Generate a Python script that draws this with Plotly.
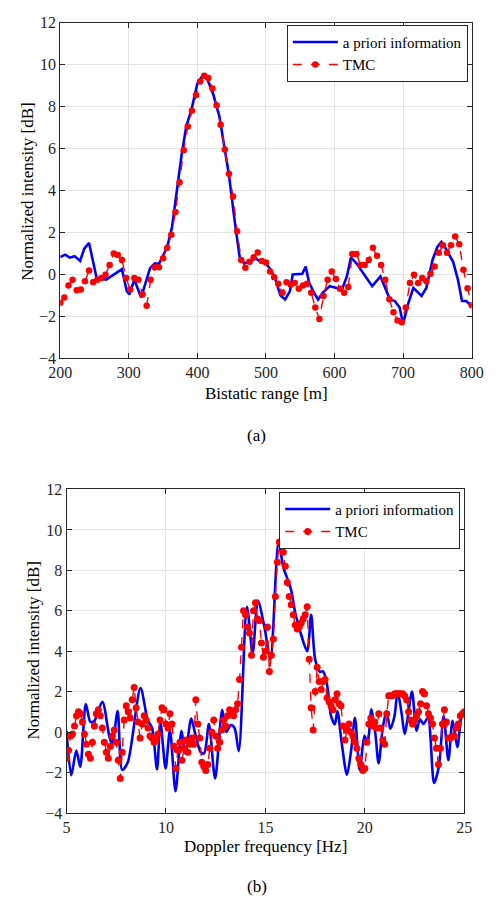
import plotly.graph_objects as go

# ---------------- (a) bistatic range profile ----------------
range_tmc = [200 + 6 * i for i in range(101)]
tmc_a = [
    -1.35, -1.1, -0.53, -0.25, -0.75, -0.72, -0.33, 0.19, -0.37, -0.25,
    -0.17, -0.02, 0.45, 1.0, 0.92, 0.69, -0.17, -0.72, -0.17, -0.25,
    -0.95, -1.5, -0.25, 0.34, 0.34, 0.77, 1.27, 1.89, 2.98, 4.39,
    5.92, 7.05, 7.8, 8.55, 9.2, 9.47, 9.36, 8.86, 8.06, 7.14,
    5.95, 4.8, 3.72, 2.06, 0.69, 0.32, 0.6, 0.82, 1.05, 0.64,
    0.57, 0.14, -0.13, -0.44, -0.88, -0.38, -0.48, -0.41, -0.69, -0.53,
    -0.44, -0.88, -1.58, -2.13, -1.03, -0.25, 0.14, -0.22, -0.69, -0.88,
    -0.6, 0.97, 0.97, 0.45, 0.45, 0.69, 1.27, 0.89, 0.45, -0.25,
    -1.19, -1.81, -2.2, -2.28, -1.58, -0.41, -0.02, -0.41, -0.17, -0.33,
    0.03, 0.38, 1.03, 1.39, 1.03, 1.39, 1.81, 1.44, 0.22, -0.66,
    -1.47,
]

range_prior = [
    200, 207, 214, 221, 229, 235, 242, 253, 267, 290, 297, 301, 308, 318,
    331, 338, 344, 356, 363, 370, 377, 384, 391, 400, 407, 414, 423, 432,
    440, 446, 455, 462, 469, 477, 485, 492, 498, 507, 514, 521, 528, 535,
    539, 549, 553, 558, 563, 569, 576, 583, 593, 602, 611, 618, 624, 632,
    646, 655, 667, 674, 681, 688, 695, 700, 708, 715, 727, 734, 743, 750,
    756, 761, 773, 780, 786, 792, 800,
]
prior_a = [
    0.82, 0.94, 0.8, 0.87, 0.64, 1.23, 1.5, -0.17, -0.25, 0.25, -0.8, -0.95,
    -0.25, -1.1, 0.3, 0.53, 0.5, 1.3, 2.25, 4.1, 5.7, 7.1, 7.8, 9.1, 9.45,
    9.35, 8.6, 7.55, 6.0, 4.75, 2.4, 0.76, 0.53, 0.6, 0.76, 0.6, 0.6, 0.22,
    -0.25, -1.0, -1.2, -0.8, 0.0, 0.0, 0.03, 0.37, -0.4, -0.8, -1.2, -0.87,
    -0.56, -0.64, -0.72, -0.1, 0.8, 0.53, -0.1, -0.56, -0.1, -0.64, -1.2,
    -1.27, -1.58, -2.36, -1.34, -0.64, -1.03, -0.64, 0.69, 1.31, 1.55, 1.31,
    0.6, -0.25, -1.27, -1.27, -1.5,
]

# ---------------- (b) Doppler spectrum ----------------
freq_tmc = [round(5.0 + 0.1 * i, 1) for i in range(201)]
tmc_b = [
    -1.3, -0.9, -0.2, -0.1, 0.3, 0.8, 1.0, 0.9, 0.5, -0.1,
    -0.6, -1.1, -1.3, -0.5, 0.3, 0.9, 1.1, 0.8, 0.2, -0.5,
    -1.0, -1.3, -0.7, -0.2, 0.1, -0.5, -1.4, -2.3, -1.0, 0.6,
    1.3, 1.0, 0.7, 1.6, 2.2, 1.2, 0.5, -0.3, 0.4, 0.8,
    0.6, 0.2, -0.2, -0.3, -0.5, -0.4, -0.1, 0.6, 1.2, 1.1,
    0.4, 0.2, 0.9, 0.4, -0.7, -1.8, -0.9, -0.5, -1.4, -0.8,
    -0.4, -1.0, -0.6, -0.3, -0.6, 1.6, 0.4, -0.3, -1.5, -1.7,
    -1.9, -1.6, -0.8, 0.0, 0.6, -0.2, -0.8, -0.5, 0.1, 0.6,
    0.3, 0.8, 1.1, 1.0, 0.8, 1.1, 1.4, 2.6, 4.2, 6.0,
    5.8, 5.2, 4.9, 3.8, 6.0, 6.4, 5.6, 5.5, 4.4, 3.7,
    4.0, 5.2, 3.0, 3.8, 4.6, 6.7, 8.4, 9.4, 9.3, 8.9,
    8.2, 7.4, 6.7, 6.3, 5.8, 5.3, 5.1, 5.2, 5.4, 5.6,
    5.8, 6.2, 3.6, 1.2, 0.1, 2.0, 3.2, 2.5, 2.1, 2.5,
    2.6, 1.7, 1.5, 1.3, 1.1, 1.6, 1.9, 1.4, 1.3, 0.3,
    -0.4, 0.1, 0.4, 0.0, -0.2, -0.5, -0.8, -1.3, -1.6, -1.9,
    -1.8, -0.5, 0.4, 0.7, 0.3, 0.5, 0.2, 0.9, 0.2, -0.4,
    -0.6, 0.9, 1.8, 1.8, 1.8, 1.9, 1.9, 1.9, 1.9, 1.9,
    1.8, 1.6, 1.0, 0.6, 0.4, 0.6, 0.8, 1.0, 1.4, 2.0,
    1.9, 1.3, 0.9, 0.7, 0.4, -0.3, -0.8, -1.6, -0.8, 0.4,
    1.1, 0.5, -0.3, -0.3, -0.2, -0.2, 0.2, 0.4, 0.8, 0.9,
    1.0,
]

freq_prior = [
    5.0, 5.24, 5.49, 5.69, 5.97, 6.2, 6.4, 6.8, 7.15, 7.3, 7.57, 7.8, 8.08,
    8.72, 9.08, 9.3, 9.55, 9.72, 9.98, 10.2, 10.48, 10.78, 10.97, 11.27,
    11.45, 11.75, 11.92, 12.16, 12.47, 12.83, 13.03, 13.26, 13.45, 13.66,
    14.07, 14.36, 14.62, 14.95, 15.25, 15.66, 15.9, 16.1, 16.3, 16.5, 16.8,
    17.1, 17.3, 17.5, 17.74, 17.9, 18.09, 18.3, 18.49, 18.62, 18.83, 19.1,
    19.31, 19.5, 19.74, 19.98, 20.14, 20.33, 20.53, 20.69, 20.9, 21.09,
    21.28, 21.49, 21.65, 21.85, 22.0, 22.13, 22.37, 22.6, 22.77, 22.95,
    23.17, 23.48, 23.72, 23.96, 24.2, 24.41, 24.65, 24.87, 25.0,
]
prior_b = [
    0.06, -2.14, -0.91, -1.72, 1.39, 0.5, 0.55, 1.5, -0.2, -0.6, 1.04, -1.88,
    -1.5, 2.17, 0.6, 0.2, -1.85, 0.5, -1.8, 0.1, -2.93, 0.06, -1.07, 0.67,
    0.0, -1.0, -1.05, 0.39, -2.3, 1.1, 0.0, 0.35, 0.2, -0.95,
    6.2, 3.9, 6.5, 5.2, 3.6, 9.4, 8.15, 7.6, 7.0, 5.9, 4.8,
    4.0, 5.8, 3.6, 2.98, 3.0, 2.4, 0.79, 0.39, 1.04, -0.5, -2.12,
    -0.9, 0.71, -1.88, -0.18, -0.58, 1.12, -0.1, -1.55, 0.2, 1.04,
    0.15, 0.79, 2.0, 0.9, -0.1, 0.55, 2.0, 0.06, 0.63, 0.4,
    0.71, -2.52, -1.7, 0.79, -1.39, 0.55, -0.74, 0.87, 1.04,
]

SERIF = "Liberation Serif"
AXIS_COLOR = "#262626"
GRID_COLOR = "#e3e3e3"
BLUE = "#0000ff"
RED = "#ff0000"

fig = go.Figure()

# subplot (a)
fig.add_trace(go.Scatter(
    x=range_prior, y=prior_a, mode="lines", name="a priori information",
    line=dict(color=BLUE, width=2.6), xaxis="x", yaxis="y", legend="legend"))
fig.add_trace(go.Scatter(
    x=range_tmc, y=tmc_a, mode="lines+markers", name="TMC",
    line=dict(color=RED, width=1.4, dash="dash"),
    marker=dict(color=RED, size=6.5, symbol="circle"),
    xaxis="x", yaxis="y", legend="legend"))

# subplot (b)
fig.add_trace(go.Scatter(
    x=freq_prior, y=prior_b, mode="lines", name="a priori information",
    line=dict(color=BLUE, width=2.6, shape="spline", smoothing=0.8),
    xaxis="x2", yaxis="y2", legend="legend2"))
fig.add_trace(go.Scatter(
    x=freq_tmc, y=tmc_b, mode="lines+markers", name="TMC",
    line=dict(color=RED, width=1.4, dash="dash"),
    marker=dict(color=RED, size=7, symbol="circle"),
    xaxis="x2", yaxis="y2", legend="legend2"))

W, H = 496, 905


def px_x(p):
    return p / W


def px_y(p):
    return 1 - p / H


axis_common = dict(
    showline=True, linecolor=AXIS_COLOR, linewidth=1, mirror="ticks",
    ticks="inside", ticklen=5, tickcolor=AXIS_COLOR,
    showgrid=True, gridcolor=GRID_COLOR, gridwidth=1, zeroline=False,
    tickfont=dict(family=SERIF, size=16, color=AXIS_COLOR),
)

legend_common = dict(
    xanchor="right", yanchor="top", bgcolor="white",
    bordercolor=AXIS_COLOR, borderwidth=1,
    font=dict(family=SERIF, size=15, color="#000000"),
    tracegroupgap=0, itemwidth=45,
)

fig.update_layout(
    width=W, height=H,
    margin=dict(l=0, r=0, t=0, b=0),
    paper_bgcolor="white", plot_bgcolor="white",
    xaxis=dict(domain=[px_x(50.7), px_x(483)], range=[200, 800],
               tickvals=[200, 300, 400, 500, 600, 700, 800], anchor="y",
               **axis_common),
    yaxis=dict(domain=[px_y(357), px_y(15)], range=[-4, 12],
               tickvals=list(range(-4, 13, 2)), anchor="x", **axis_common),
    xaxis2=dict(domain=[px_x(57.3), px_x(475.3)], range=[5, 25],
                tickvals=[5, 10, 15, 20, 25], anchor="y2", **axis_common),
    yaxis2=dict(domain=[px_y(820.3), px_y(490.7)], range=[-4, 12],
                tickvals=list(range(-4, 13, 2)), anchor="x2", **axis_common),
    legend=dict(x=px_x(479), y=px_y(17), **legend_common),
    legend2=dict(x=px_x(471), y=px_y(493), **legend_common),
    showlegend=True,
)

title_font = dict(family=SERIF, size=17, color="#000000")
annotations = [
    dict(text="Bistatic range [m]", x=px_x(267), y=px_y(393), font=title_font),
    dict(text="Normalized intensity [dB]", x=px_x(16), y=px_y(187),
         textangle=-90, font=title_font),
    dict(text="(a)", x=px_x(257), y=px_y(436), font=title_font),
    dict(text="Doppler frequency [Hz]", x=px_x(266), y=px_y(855), font=title_font),
    dict(text="Normalized intensity [dB]", x=px_x(23), y=px_y(655),
         textangle=-90, font=title_font),
    dict(text="(b)", x=px_x(257), y=px_y(895), font=title_font),
]
for a in annotations:
    fig.add_annotation(xref="paper", yref="paper", showarrow=False,
                       xanchor="center", yanchor="middle", **a)

fig.write_html("out.html")
